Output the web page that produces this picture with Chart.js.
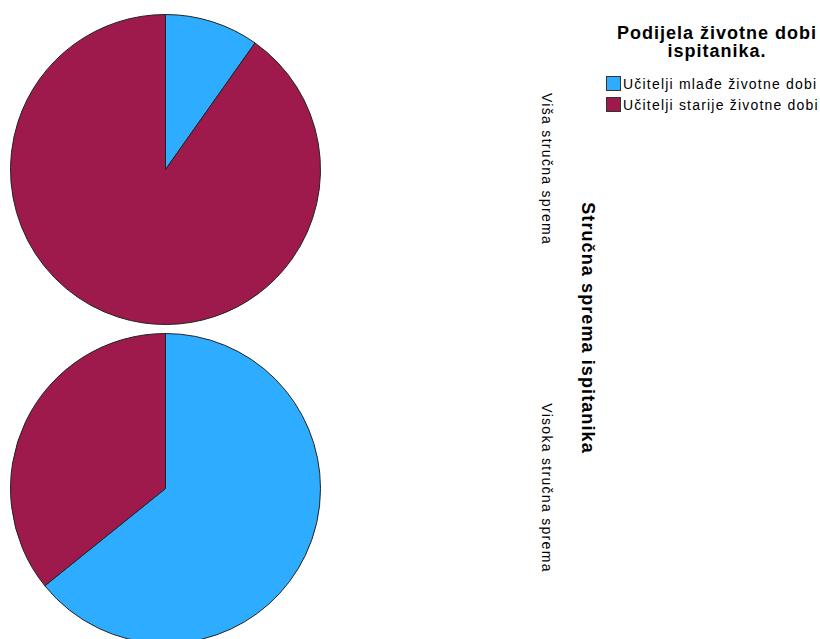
<!DOCTYPE html>
<html lang="hr">
<head>
    <meta charset="UTF-8">
    <title>Podijela životne dobi ispitanika</title>
    <script src="https://cdn.jsdelivr.net/npm/chart.js"></script>
    <style>
        html, body {
            margin: 0;
            padding: 0;
            width: 820px;
            height: 639px;
            overflow: hidden;
            background: #fff;
            font-family: Arial, "Liberation Sans", sans-serif;
        }

        .pie {
            position: absolute;
        }

        .lbl {
            position: absolute;
            writing-mode: vertical-rl;
            transform: translate(-50%, -50%);
            white-space: nowrap;
            color: #000;
        }

        .small {
            font-size: 14px;
            letter-spacing: 1.3px;
        }

        .bold {
            font-size: 18px;
            font-weight: bold;
            letter-spacing: 1.1px;
        }

        #legendTitle {
            position: absolute;
            left: 606px;
            width: 222px;
            top: 24px;
            text-align: center;
            font-size: 18px;
            font-weight: bold;
            letter-spacing: 1px;
            line-height: 18px;
            white-space: nowrap;
        }

        #legend {
            position: absolute;
            left: 606px;
            top: 73px;
            font-size: 14px;
            letter-spacing: 1.2px;
        }

        .item {
            height: 21px;
            display: flex;
            align-items: center;
            white-space: nowrap;
        }

        .box {
            width: 13px;
            height: 13px;
            border: 1px solid #333;
            margin-right: 2px;
        }
    </style>
</head>
<body>
<canvas id="pieTop" class="pie" width="321" height="321" style="left:5px;top:9px"></canvas>
<canvas id="pieBottom" class="pie" width="321" height="321" style="left:5px;top:328px"></canvas>

<div class="lbl small" style="left:547px;top:169px">Viša stručna sprema</div>
<div class="lbl small" style="left:547px;top:488px">Visoka stručna sprema</div>
<div class="lbl bold" style="left:587px;top:328px">Stručna sprema ispitanika</div>

<div id="legendTitle">Podijela životne dobi<br>ispitanika.</div>
<div id="legend"></div>

<script>
    // kategorije i vrijednosti (postotci procijenjeni sa slike)
    const ageGroups = ['Učitelji mlađe životne dobi', 'Učitelji starije životne dobi'];
    const groupColors = ['#2EACFF', '#9E1A4C'];
    const visaValues = [9.8, 90.2];
    const visokaValues = [64.2, 35.8];

    function makePie(id, values) {
        const ctx = document.getElementById(id).getContext('2d');
        return new Chart(ctx, {
            type: 'pie',
            data: {
                labels: ageGroups,
                datasets: [{
                    data: values,
                    backgroundColor: groupColors,
                    borderColor: '#222',
                    borderWidth: 1,
                    hoverOffset: 0
                }]
            },
            options: {
                responsive: false,
                animation: false,
                radius: 155,
                plugins: {
                    legend: {display: false},
                    tooltip: {enabled: false}
                }
            }
        });
    }

    makePie('pieTop', visaValues);
    makePie('pieBottom', visokaValues);

    const legend = document.getElementById('legend');
    ageGroups.forEach((name, i) => {
        const row = document.createElement('div');
        row.className = 'item';
        const box = document.createElement('span');
        box.className = 'box';
        box.style.background = groupColors[i];
        row.appendChild(box);
        row.appendChild(document.createTextNode(name));
        legend.appendChild(row);
    });
</script>
</body>
</html>
